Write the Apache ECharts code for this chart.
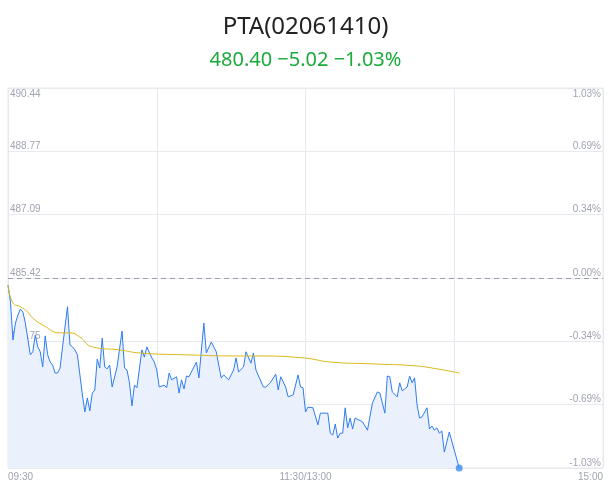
<!DOCTYPE html><html><head><meta charset="utf-8"><script src="https://cdn.jsdelivr.net/npm/echarts@6/dist/echarts.min.js"></script>
<style>html,body{margin:0;padding:0;background:#fff}#c{width:611px;height:492px}</style></head><body><div id="c"></div><script>
var title='PTA(02061410)';
var subtitle='480.40 \u22125.02 \u22121.03%';
var preClose=485.42;
var yMin=480.40, yMax=490.44;
var timeLabels={0:'09:30',120:'11:30/13:00',240:'15:00'};
var priceMinutes=[0,1,2,3,4,5,6,7,9,10,11,12,13,14,15,16,17,18,19,20,21,22,24,25,26,27,28,30,31,32,33,34,35,36,37,38,39,40,41,42,44,46,47,48,49,50,51,52,54,55,56,58,59,60,61,63,64,65,66,68,69,70,71,72,73,75,76,77,79,80,82,84,86,87,89,91,92,93,95,96,98,99,100,103,104,106,108,109,110,112,113,115,117,118,119,120,121,123,125,126,129,130,131,132,133,134,135,136,137,138,139,140,143,145,147,149,150,152,153,154,155,157,158,159,161,162,163,164,165,166,167,169,170,171,172,173,174,175,176,178,182];
var prices=[485.23,484.79,483.78,484.23,484.44,484.60,484.52,484.23,483.39,483.47,483.91,483.60,483.47,483.07,483.89,483.39,483.20,483.12,482.91,482.91,483.04,483.60,484.66,483.65,483.60,483.52,483.39,482.33,481.88,482.25,481.91,482.38,482.46,483.28,483.04,483.83,483.07,483.02,483.12,482.54,483.07,484.02,483.04,482.99,482.65,482.04,482.59,482.52,483.52,483.33,483.60,483.31,483.20,482.99,482.54,482.59,482.52,482.91,482.73,482.81,482.38,482.73,482.49,482.83,482.81,483.07,483.20,482.78,484.23,483.44,483.73,483.47,482.78,482.86,482.73,482.99,483.31,482.94,483.07,483.47,483.17,483.44,482.99,482.54,482.54,482.67,482.88,482.46,482.81,482.54,482.28,482.33,482.86,482.54,482.52,481.88,482.01,481.99,481.54,481.85,481.85,481.32,481.27,481.56,481.19,481.32,481.32,481.99,481.46,481.72,481.43,481.72,481.62,481.40,482.12,482.41,482.38,481.85,482.83,482.81,482.41,482.28,482.65,482.44,482.54,482.83,482.65,482.78,482.07,481.72,481.75,481.99,481.43,481.51,481.40,481.46,481.32,481.38,480.82,481.35,480.40];
var avgMinutes=[0,2,5,8,10,14,21,25,29,34,45,53,72,94,100,119,130,147,164,173,182];
var avgPrices=[485.23,484.76,484.66,484.52,484.36,484.18,483.97,483.97,483.86,483.60,483.52,483.44,483.39,483.36,483.36,483.31,483.20,483.15,483.10,483.02,482.91];
var pData=priceMinutes.map(function(m,i){return [m,prices[i]];});
var aData=avgMinutes.map(function(m,i){return [m,avgPrices[i]];});
var last=pData[pData.length-1];
var iv=(yMax-yMin)/6;
var ch=echarts.init(document.getElementById('c'));
var gray='#a0a4b0', gridc='#e8e9ef';
ch.setOption({
 animation:false,
 title:[{text:title,left:'center',top:10,textStyle:{fontSize:24,fontWeight:'normal',color:'#222',fontFamily:'Noto Sans'}},
        {text:subtitle,left:'center',top:45,textStyle:{fontSize:20,fontWeight:'normal',color:'#1aab3c',fontFamily:'Noto Sans'}}],
 grid:{left:8,right:8,top:88,bottom:24,show:true,borderColor:gridc,borderWidth:1},
 xAxis:{type:'value',min:0,max:240,interval:60,axisLine:{show:false},axisTick:{show:false},
   splitLine:{show:true,lineStyle:{color:gridc}},
   axisLabel:{color:gray,fontSize:10,margin:4,alignMinLabel:'left',alignMaxLabel:'right',formatter:function(v){return timeLabels[v]||'';}}},
 yAxis:[{type:'value',min:yMin,max:yMax,interval:iv,axisLine:{show:false},axisTick:{show:false},
   splitLine:{show:true,lineStyle:{color:gridc}},
   axisLabel:{inside:true,color:gray,fontSize:10,verticalAlign:'bottom',margin:2,
     formatter:function(v){return Math.abs(v-yMax)<0.001?'{t|'+v.toFixed(2)+'}':v.toFixed(2);},rich:{t:{color:gray,fontSize:10,padding:[0,0,-12,0]}}}},
  {type:'value',min:-1.03,max:1.03,interval:2.06/6,position:'right',axisLine:{show:false},axisTick:{show:false},splitLine:{show:false},
   axisLabel:{inside:true,color:gray,fontSize:10,verticalAlign:'bottom',margin:2,
     formatter:function(v){var s=(Math.abs(v)<0.001?'0.00':v.toFixed(2))+'%';return Math.abs(v-1.03)<0.001?'{t|'+s+'}':s;},rich:{t:{color:gray,fontSize:10,padding:[0,0,-12,0]}}}}],
 series:[
  {type:'line',data:pData,showSymbol:false,lineStyle:{color:'#2f7cf0',width:1},areaStyle:{color:'#ebf1fc',opacity:1},itemStyle:{color:'#2f7cf0'},
   markLine:{silent:true,symbol:'none',label:{show:false},lineStyle:{color:'#9aa0b0',type:[5,4],width:1},data:[{yAxis:preClose}]},
   z:2},
  {type:'line',data:aData,showSymbol:false,smooth:true,lineStyle:{color:'#d9b81c',width:1},z:3},
  {type:'scatter',data:[last],symbolSize:7,itemStyle:{color:'#3b8cf5'},z:4}
 ]
});
</script></body></html>
